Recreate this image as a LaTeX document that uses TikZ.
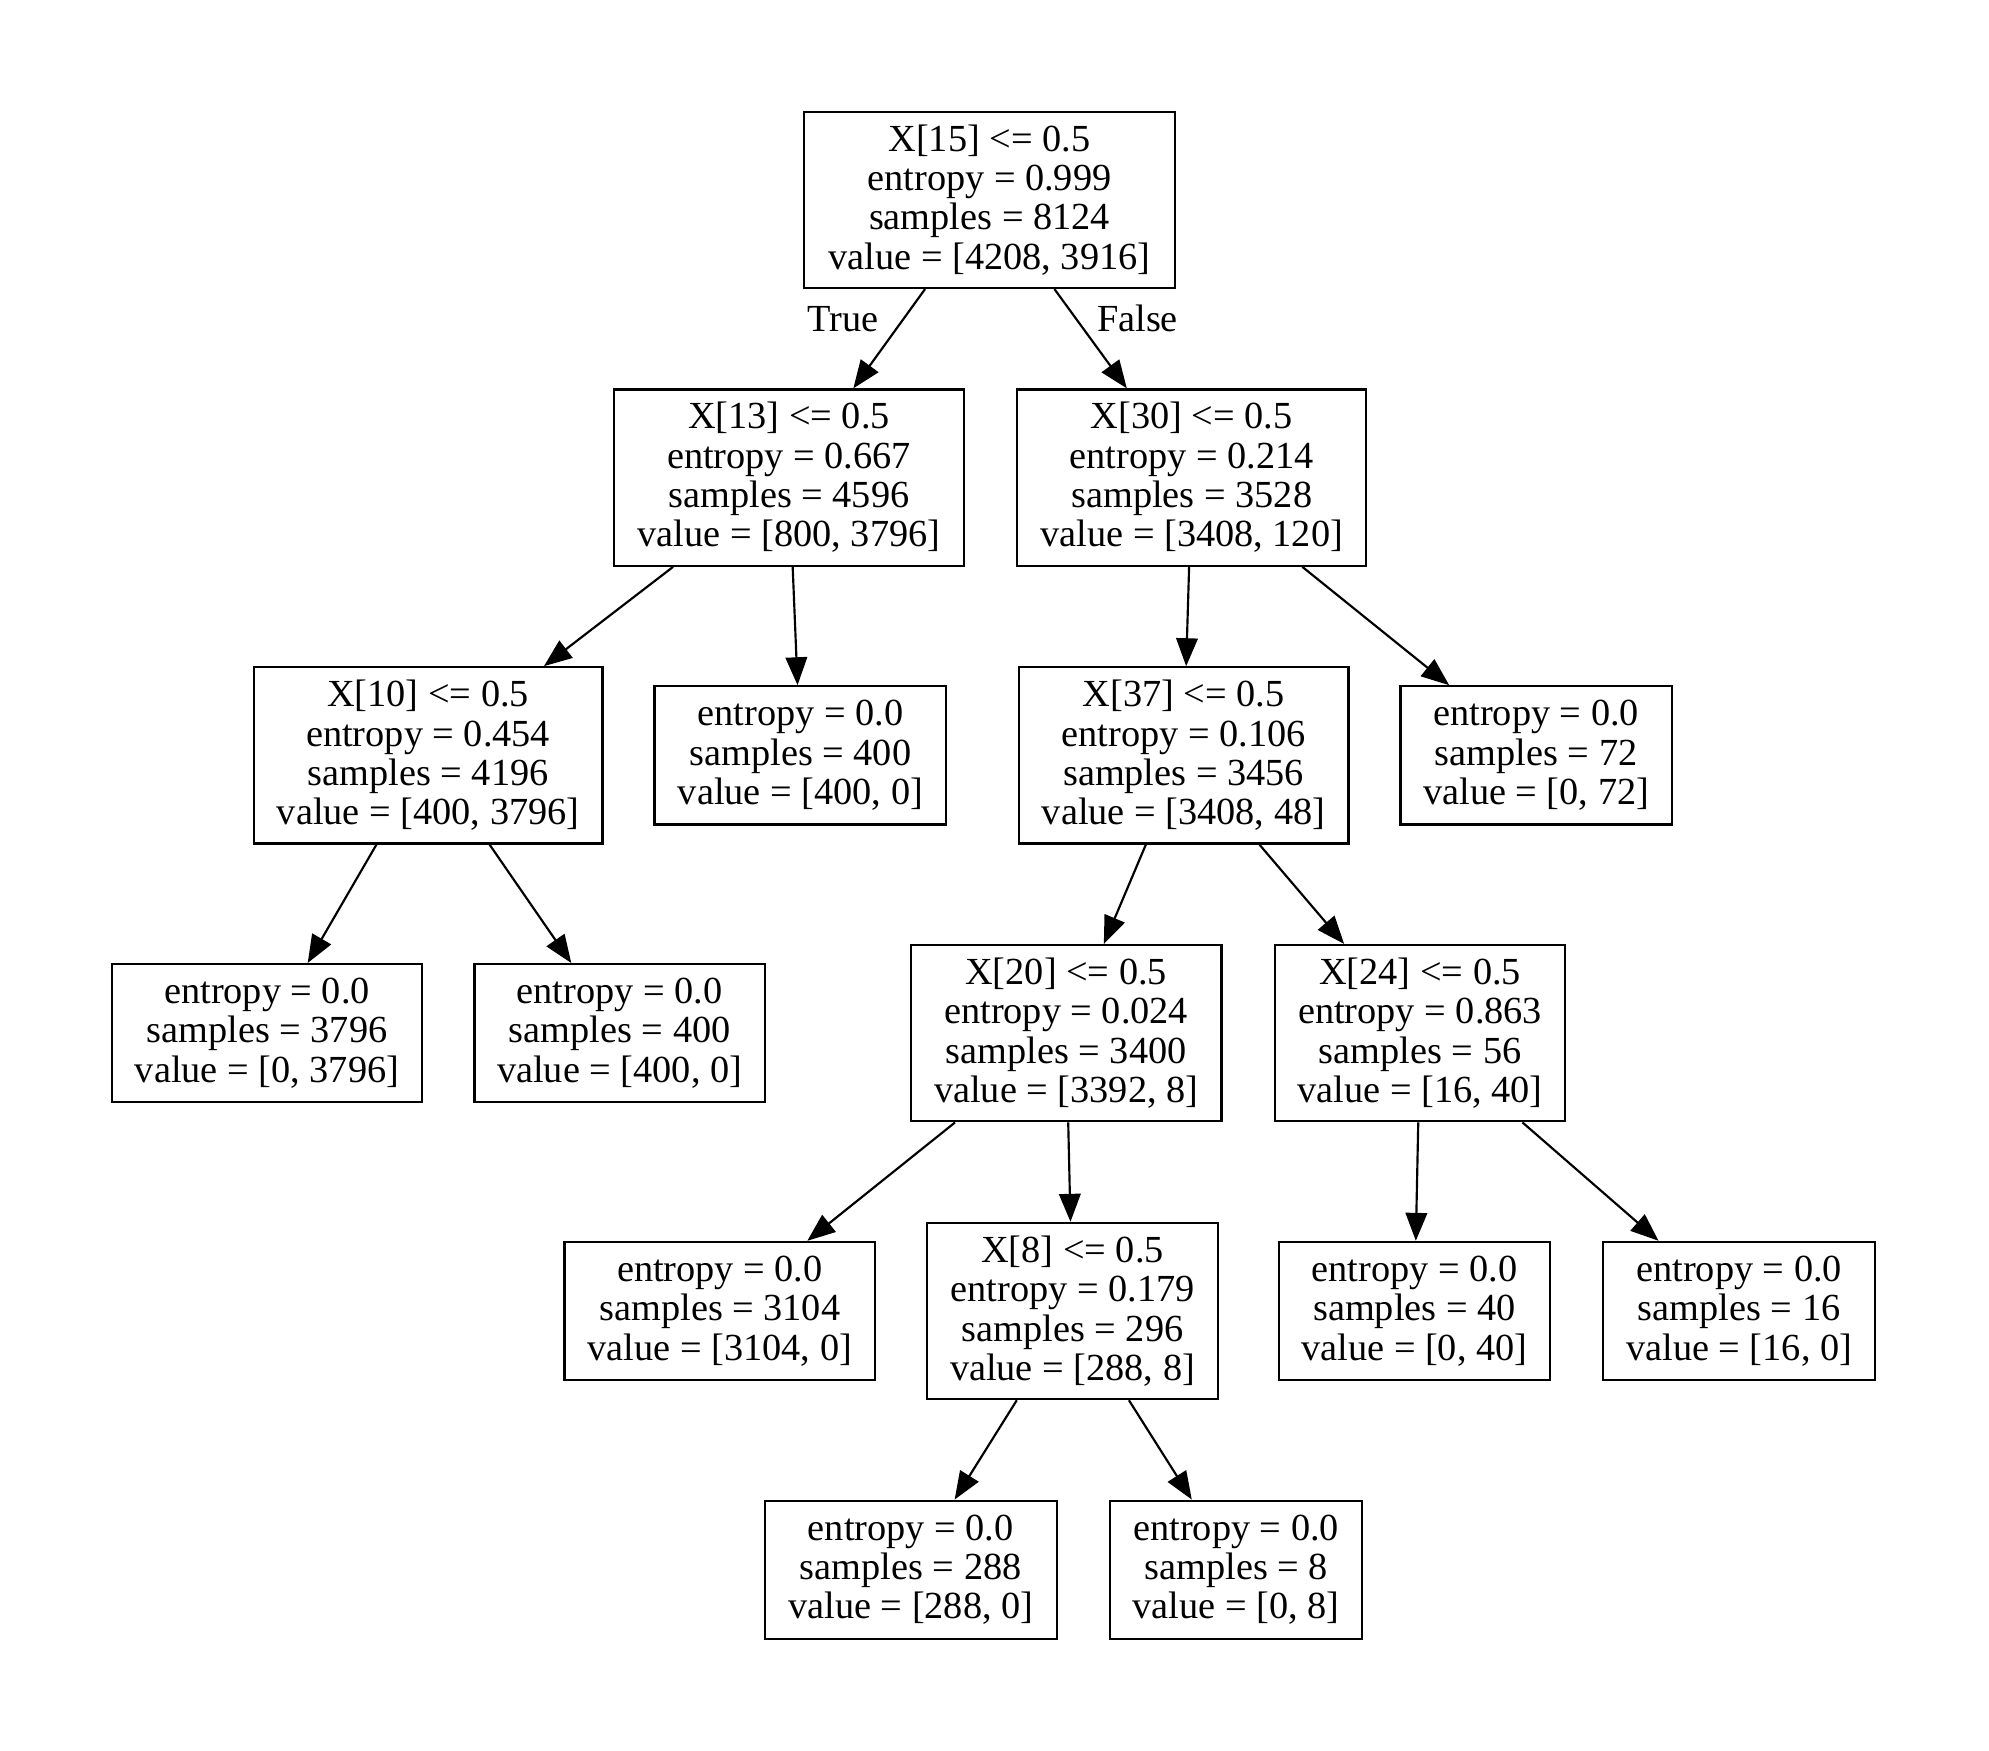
\documentclass[tikz,border=0pt]{standalone}
\usepackage{fontspec}
\setmainfont{Liberation Serif}
\usetikzlibrary{arrows.meta}
\tikzset{
  box/.style={draw, line width=0.85pt, rectangle, inner sep=0pt, align=center,
    font=\fontsize{15.1pt}{15.5pt}\selectfont},
  edge/.style={line width=0.85pt, -{Triangle[length=11pt,width=8.5pt]}},
  elabel/.style={anchor=base, inner sep=0pt, font=\fontsize{15.1pt}{15.5pt}\selectfont}
}
\begin{document}
\begin{tikzpicture}[x=0.5pt,y=-0.5pt]
\useasboundingbox[fill=white] (0,0) rectangle (1568,1380);
% level 0
\node[box, minimum width=146pt, minimum height=69.5pt] (root) at (780,157.5)
  {X[15] <= 0.5\\entropy = 0.999\\samples = 8124\\value = [4208, 3916]};
% level 1
\node[box, minimum width=138pt, minimum height=69.5pt] (n13) at (622,376.5)
  {X[13] <= 0.5\\entropy = 0.667\\samples = 4596\\value = [800, 3796]};
\node[box, minimum width=137.5pt, minimum height=69.5pt] (n30) at (939.5,376.5)
  {X[30] <= 0.5\\entropy = 0.214\\samples = 3528\\value = [3408, 120]};
% level 2
\node[box, minimum width=137.5pt, minimum height=69.5pt] (n10) at (337.5,595.5)
  {X[10] <= 0.5\\entropy = 0.454\\samples = 4196\\value = [400, 3796]};
\node[box, minimum width=115pt, minimum height=54.5pt] (l400a) at (631,595.5)
  {entropy = 0.0\\samples = 400\\value = [400, 0]};
\node[box, minimum width=130pt, minimum height=69.5pt] (n37) at (933,595.5)
  {X[37] <= 0.5\\entropy = 0.106\\samples = 3456\\value = [3408, 48]};
\node[box, minimum width=107pt, minimum height=54.5pt] (l72) at (1211,595.5)
  {entropy = 0.0\\samples = 72\\value = [0, 72]};
% level 3
\node[box, minimum width=122.5pt, minimum height=54.5pt] (l3796) at (210.5,814.5)
  {entropy = 0.0\\samples = 3796\\value = [0, 3796]};
\node[box, minimum width=114.5pt, minimum height=54.5pt] (l400b) at (488.5,814.5)
  {entropy = 0.0\\samples = 400\\value = [400, 0]};
\node[box, minimum width=122.5pt, minimum height=69.5pt] (n20) at (840.5,814.5)
  {X[20] <= 0.5\\entropy = 0.024\\samples = 3400\\value = [3392, 8]};
\node[box, minimum width=114.5pt, minimum height=69.5pt] (n24) at (1119.5,814.5)
  {X[24] <= 0.5\\entropy = 0.863\\samples = 56\\value = [16, 40]};
% level 4
\node[box, minimum width=122.5pt, minimum height=54.5pt] (l3104) at (567.5,1033.5)
  {entropy = 0.0\\samples = 3104\\value = [3104, 0]};
\node[box, minimum width=114.5pt, minimum height=69.5pt] (n8) at (845.5,1033.5)
  {X[8] <= 0.5\\entropy = 0.179\\samples = 296\\value = [288, 8]};
\node[box, minimum width=107pt, minimum height=54.5pt] (l40) at (1115,1033.5)
  {entropy = 0.0\\samples = 40\\value = [0, 40]};
\node[box, minimum width=107pt, minimum height=54.5pt] (l16) at (1371,1033.5)
  {entropy = 0.0\\samples = 16\\value = [16, 0]};
% level 5
\node[box, minimum width=115pt, minimum height=54.5pt] (l288) at (718,1237.5)
  {entropy = 0.0\\samples = 288\\value = [288, 0]};
\node[box, minimum width=99.5pt, minimum height=54.5pt] (l8) at (974.5,1237.5)
  {entropy = 0.0\\samples = 8\\value = [0, 8]};
% edges
\draw[edge] (root) -- (n13);
\draw[edge] (root) -- (n30);
\draw[edge] (n13) -- (n10);
\draw[edge] (n13) -- (l400a);
\draw[edge] (n30) -- (n37);
\draw[edge] (n30) -- (l72);
\draw[edge] (n10) -- (l3796);
\draw[edge] (n10) -- (l400b);
\draw[edge] (n37) -- (n20);
\draw[edge] (n37) -- (n24);
\draw[edge] (n20) -- (l3104);
\draw[edge] (n20) -- (n8);
\draw[edge] (n24) -- (l40);
\draw[edge] (n24) -- (l16);
\draw[edge] (n8) -- (l288);
\draw[edge] (n8) -- (l8);
% edge labels
\node[elabel] (ltrue) at (664.6,261) {True};
\node[elabel] (lfalse) at (896.7,261) {False};
\end{tikzpicture}
\end{document}
